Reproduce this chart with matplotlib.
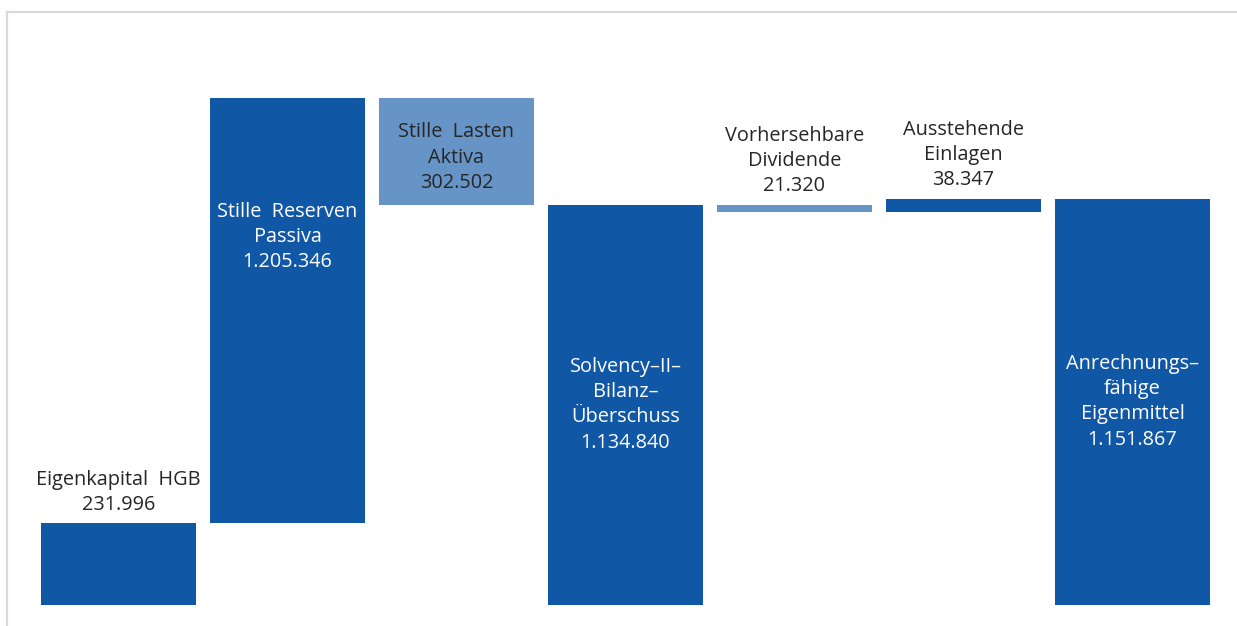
import matplotlib
matplotlib.use('Agg')
import matplotlib.pyplot as plt
from matplotlib.lines import Line2D

# Data (values in EUR thousands)
labels = ['Eigenkapital  HGB', 'Stille  Reserven\nPassiva', 'Stille  Lasten\nAktiva',
          'Solvency–II–\nBilanz–\nÜberschuss', 'Vorhersehbare\nDividende',
          'Ausstehende\nEinlagen', 'Anrechnungs–\nfähige\nEigenmittel']
values = [231996, 1205346, 302502, 1134840, 21320, 38347, 1151867]
kinds = ['total', 'up', 'down', 'total', 'down', 'up', 'total']

DARK = '#1057A6'
LIGHT = '#6794C6'
TEXT = '#262626'


def fmt(v):
    return f'{v:,}'.replace(',', '.')


# Waterfall bottoms / heights
bottoms, heights = [], []
level = 0
for v, k in zip(values, kinds):
    if k == 'total':
        bottoms.append(0)
        heights.append(v)
        level = v
    elif k == 'up':
        bottoms.append(level)
        heights.append(v)
        level += v
    else:
        level -= v
        bottoms.append(level)
        heights.append(v)

colors = [LIGHT if k == 'down' else DARK for k in kinds]

W, H = 1237, 626
fig = plt.figure(figsize=(W / 100, H / 100), dpi=100)
ax = fig.add_axes([34 / W, (H - 605) / H, 1183 / W, (605 - 40.6) / H])
plt.rcParams['font.family'] = ['Open Sans', 'DejaVu Sans']

x = list(range(len(values)))
ax.bar(x, heights, bottom=bottoms, width=0.92, color=colors)
ax.set_xlim(-0.5, len(values) - 0.5)
ax.set_ylim(0, 1.6e6)
ax.axis('off')

fs = 14.3
ls = 1.35
for i, (lab, v, k) in enumerate(zip(labels, values, kinds)):
    txt = lab + '\n' + fmt(v)
    top = bottoms[i] + heights[i]
    if i in (0, 4, 5):
        # label above the bar
        ax.annotate(txt, (i, top), xytext=(0, 6), textcoords='offset points',
                    ha='center', va='bottom', fontsize=fs, color=TEXT,
                    linespacing=ls)
    elif i == 1:
        ax.text(i, 1.043e6, txt, ha='center', va='center', fontsize=fs,
                color='white', linespacing=ls)
    elif i == 2:
        ax.text(i, bottoms[i] + heights[i] * 0.44, txt, ha='center', va='center',
                fontsize=fs, color=TEXT, linespacing=ls)
    else:
        ax.text(i, bottoms[i] + heights[i] / 2, txt, ha='center', va='center',
                fontsize=fs, color='white', linespacing=ls)

# Frame (only left and top visible)
fig.add_artist(Line2D([7 / W, 7 / W], [0, 1 - 12 / H], transform=fig.transFigure,
                      color='#d9d9d9', lw=1.6))
fig.add_artist(Line2D([7 / W, 1], [1 - 12 / H, 1 - 12 / H], transform=fig.transFigure,
                      color='#d9d9d9', lw=1.6))

fig.savefig('out.png', dpi=100)
